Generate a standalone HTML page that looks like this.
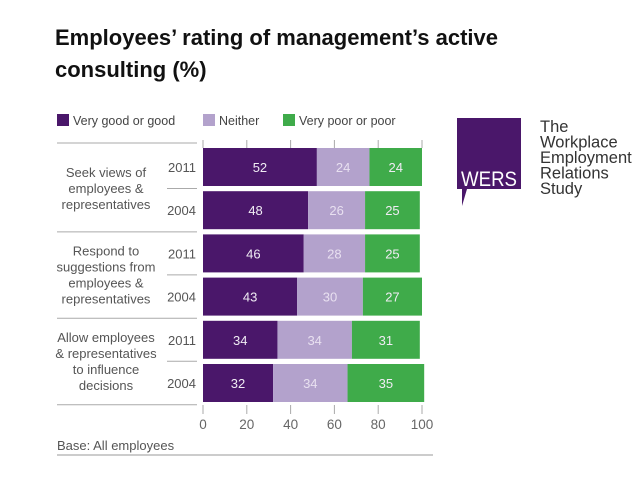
<!DOCTYPE html>
<html><head><meta charset="utf-8"><style>
body{margin:0;background:#fff;width:638px;height:479px;overflow:hidden;font-family:"Liberation Sans",sans-serif}
h1{position:absolute;left:55px;top:22px;margin:0;font-size:22px;line-height:32px;font-weight:bold;color:#111}
</style></head><body>
<h1>Employees’ rating of management’s active<br>consulting (%)</h1>
<svg id="c" width="638" height="479" style="position:absolute;left:0;top:0"></svg>
<script>
const groups=["Seek views of|employees &|representatives","Respond to|suggestions from|employees &|representatives","Allow employees|& representatives|to influence|decisions"];
const years=["2011","2004"];
const good=[52,48,46,43,34,32];
const neither=[24,26,28,30,34,34];
const poor=[24,25,25,27,31,35];
const ticks=[0,20,40,60,80,100];
const legendLabels=["Very good or good","Neither","Very poor or poor"];
const colors=["#4a176a","#b3a2cc","#3fab4a"];
const svg=document.getElementById('c');const NS="http://www.w3.org/2000/svg";
function mk(t,a,txt){const e=document.createElementNS(NS,t);for(const k in a)e.setAttribute(k,a[k]);if(txt!==undefined)e.textContent=txt;svg.appendChild(e);return e;}
const x=v=>203+v*2.19;
const rowY=i=>148+i*43.2;
const bh=38;
// legend
const lx=[57,203,283];
legendLabels.forEach((l,i)=>{
 const r=mk('rect',{x:lx[i],y:114,width:12,height:12,fill:colors[i]});
 
 const t=mk('text',{x:lx[i]+16,y:125,'font-size':12.5,fill:'#444'},l);
 
});
// ticks top & bottom
ticks.forEach(v=>{
 mk('line',{x1:x(v),x2:x(v),y1:140,y2:148,stroke:'#aaa','stroke-width':1});
 mk('line',{x1:x(v),x2:x(v),y1:405,y2:414,stroke:'#aaa','stroke-width':1});
 const t=mk('text',{x:x(v),y:429,'font-size':13.5,fill:'#666','text-anchor':'middle'},v);
 
});
// separators
mk('line',{x1:57,x2:197,y1:143,y2:143,stroke:'#aaa'});
[0,1,2].forEach(g=>{
 const yb=rowY(g*2)+86.4-2.5;
 mk('line',{x1:57,x2:197,y1:yb,y2:yb,stroke:'#aaa'});
 const ym=rowY(g*2)+bh+2.5;
 mk('line',{x1:167,x2:197,y1:ym,y2:ym,stroke:'#aaa'});
 const lines=groups[g].split('|');const cy=rowY(g*2)+41;
 lines.forEach((l,k)=>{const t=mk('text',{x:106,y:cy-(lines.length-1)*8+k*16+4,'font-size':13,fill:'#555','text-anchor':'middle'},l);
 });
});
// bars
for(let i=0;i<6;i++){
 const y=rowY(i);
 const yt=mk('text',{x:196,y:y+bh/2+5,'font-size':13,fill:'#555','text-anchor':'end'},years[i%2]);
 
 const vals=[good[i],neither[i],poor[i]];let s=0;
 vals.forEach((v,k)=>{
  const r=mk('rect',{x:x(s),y:y,width:x(s+v)-x(s),height:bh,fill:colors[k]});
  
  const t=mk('text',{x:(x(s)+x(s+v))/2,y:y+bh/2+5,'font-size':13,fill:k==1?'#e8e0f0':'#f0ecf4','text-anchor':'middle'},v);
  
  s+=v;
 });
}
const b=mk('text',{x:57,y:450,'font-size':13,fill:'#555'},'Base: All employees');

mk('line',{x1:57,x2:433,y1:455,y2:455,stroke:'#999'});
// logo
const lg=mk('path',{d:'M457 118 H521 V189 H467 L462 206 V189 H457 Z',fill:'#4a176a'});

mk('text',{x:461,y:186,'font-size':21,fill:'#fff',textLength:56,lengthAdjust:'spacingAndGlyphs'},'WERS');
["The","Workplace","Employment","Relations","Study"].forEach((l,k)=>mk('text',{x:540,y:132+k*15.5,'font-size':16.5,fill:'#333'},l));
</script>
</body></html>
